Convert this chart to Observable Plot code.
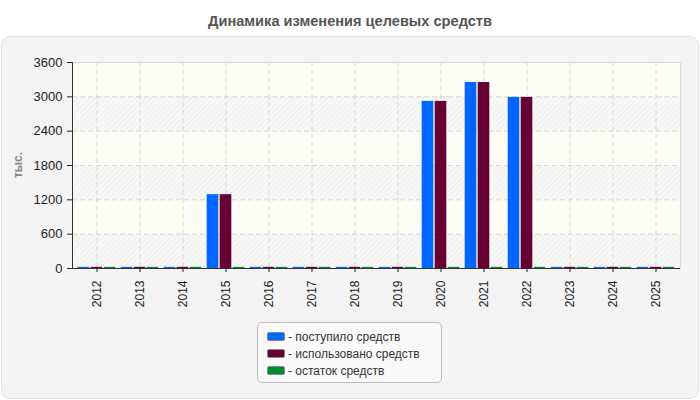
<!DOCTYPE html>
<html>
<head>
<meta charset="utf-8">
<script src="https://cdn.jsdelivr.net/npm/d3@7"></script>
<script src="https://cdn.jsdelivr.net/npm/@observablehq/plot@0.6"></script>
<style>
  html, body { margin: 0; padding: 0; background: #fff; width: 700px; height: 400px; overflow: hidden; font-family: "Liberation Sans", Arial, sans-serif; }
  #title { position: absolute; left: 0; top: 12px; width: 700px; text-align: center; font-size: 14.6px; line-height: 18px; font-weight: bold; color: #555; }
  #panel { position: absolute; left: 1px; top: 36px; width: 696px; height: 361px; background: #f4f4f4; border: 1px solid #e2e2e2; border-radius: 9px; }
  #chart { position: absolute; left: 0; top: 0; }
  #chart svg { background: transparent; }
  #ylabel { position: absolute; left: 18px; top: 165px; transform: translate(-50%, -50%) rotate(-90deg); font-size: 12px; font-weight: bold; color: #888; white-space: nowrap; }
  #legend { position: absolute; left: 257px; top: 322px; width: 185px; height: 61px; border: 1px solid #bdbdbd; border-radius: 5px; background: #fafafa; box-sizing: border-box; padding-top: 5px; padding-left: 9px; }
  .item { display: flex; align-items: center; height: 17px; font-size: 12px; color: #333; white-space: nowrap; }
  .sw { width: 16px; height: 7px; border: 1px solid #888; border-radius: 2px; margin-right: 3px; }
</style>
</head>
<body>
<div id="title">Динамика изменения целевых средств</div>
<div id="panel"></div>
<div id="chart"></div>
<div id="ylabel">тыс.</div>
<div id="legend"></div>
<script>
const years = ["2012","2013","2014","2015","2016","2017","2018","2019","2020","2021","2022","2023","2024","2025"];
const received = [20, 20, 20, 1290, 20, 20, 20, 20, 2920, 3250, 2990, 20, 20, 20];
const used     = [20, 20, 20, 1290, 20, 20, 20, 20, 2920, 3250, 2990, 20, 20, 20];
const balance  = [20, 20, 20, 20, 20, 20, 20, 20, 20, 20, 20, 20, 20, 20];
const seriesNames = ["- поступило средств", "- использовано средств", "- остаток средств"];
const seriesColors = ["#0066ff", "#660033", "#008833"];
const yTicks = [0, 600, 1200, 1800, 2400, 3000, 3600];

const rows = (vals) => years.map((y, i) => ({year: y, value: vals[i]}));
const hatchBands = [];
for (let i = 0; i < yTicks.length - 1; i += 2) hatchBands.push({y1: yTicks[i], y2: yTicks[i + 1]});

const barOpts = (dx, color) => ({x: "year", y: "value", fill: color, insetLeft: 15.7, insetRight: 15.7, dx});

const plot = Plot.plot({
  width: 700,
  height: 320,
  marginLeft: 72,
  marginRight: 20,
  marginTop: 62,
  marginBottom: 52,
  style: {fontFamily: "'Liberation Sans', Arial, sans-serif", fontSize: "12px", color: "#222", background: "transparent"},
  x: {type: "band", domain: years, padding: 0, label: null},
  y: {domain: [0, 3600], label: null},
  marks: [
    Plot.frame({fill: "#fdfdf6", stroke: null}),
    Plot.rect(hatchBands, {y1: "y1", y2: "y2", fill: "url(#hatch)"}),
    Plot.ruleY(yTicks.slice(1, -1), {stroke: "#d6d6d6", strokeDasharray: "5,3"}),
    Plot.ruleX(years, {stroke: "#d6d6d6", strokeDasharray: "5,3"}),
    Plot.barY(rows(received), barOpts(-13, seriesColors[0])),
    Plot.barY(rows(used), barOpts(0, seriesColors[1])),
    Plot.barY(rows(balance), barOpts(13, seriesColors[2])),
    Plot.frame({stroke: "#dadada"}),
    Plot.ruleY([0], {stroke: "#333"}),
    Plot.frame({anchor: "left", stroke: "#333"}),
    Plot.axisY({ticks: yTicks, tickSize: 5, tickPadding: 5, fontSize: 13, label: null, tickFormat: d => String(d)}),
    Plot.axisX({tickRotate: -90, tickSize: 4, tickPadding: 8, fontSize: 12, label: null})
  ]
});

const svg = d3.select(plot);
const defs = svg.insert("defs", ":first-child");
const pat = defs.append("pattern").attr("id", "hatch").attr("patternUnits", "userSpaceOnUse")
  .attr("width", 4).attr("height", 4).attr("patternTransform", "rotate(45)");
pat.append("rect").attr("width", 4).attr("height", 4).attr("fill", "#f8f8f6");
pat.append("line").attr("x1", 0).attr("y1", 0).attr("x2", 0).attr("y2", 4).attr("stroke", "#ebebeb").attr("stroke-width", 1.5);

document.getElementById("chart").appendChild(plot);

const legend = d3.select("#legend");
seriesNames.forEach((name, i) => {
  const it = legend.append("div").attr("class", "item");
  it.append("div").attr("class", "sw").style("background", seriesColors[i]);
  it.append("span").text(name);
});
</script>
</body>
</html>
